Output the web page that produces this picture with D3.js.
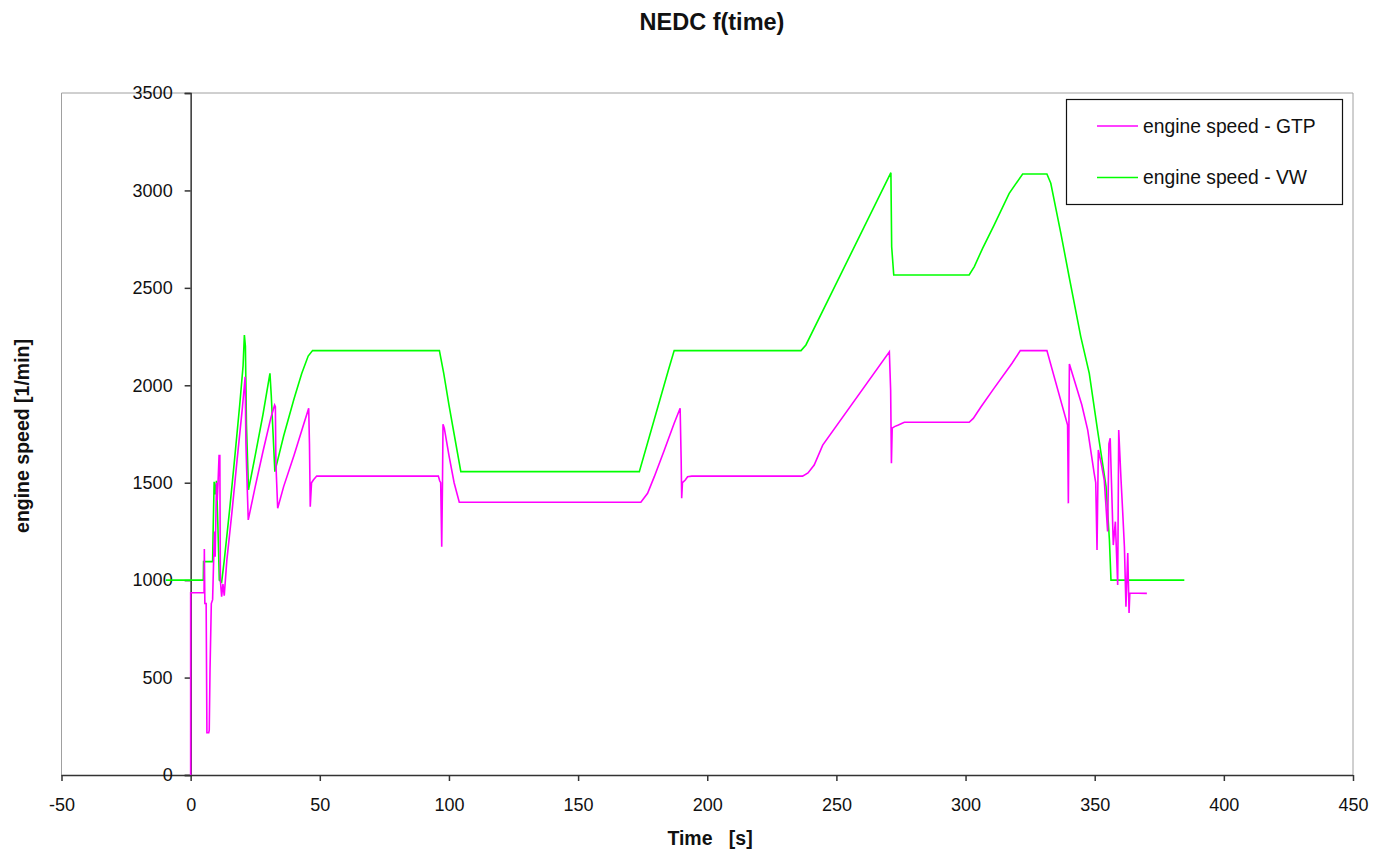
<!DOCTYPE html>
<html>
<head>
<meta charset="utf-8">
<script src="https://cdn.jsdelivr.net/npm/d3@7"></script>
<style>
  body { margin: 0; background: #fff; }
  svg { display: block; font-family: "Liberation Sans", Arial, sans-serif; }
  .tick-label { font-size: 18px; fill: #111; }
  .axis-title { font-size: 19.5px; font-weight: bold; fill: #111; }
</style>
</head>
<body>
<svg id="chart" width="1374" height="853"></svg>
<script>
const CHART_TITLE = "NEDC f(time)";
const X_TITLE = "Time   [s]";
const Y_TITLE = "engine speed [1/min]";
const X_TICKS = [-50, 0, 50, 100, 150, 200, 250, 300, 350, 400, 450];
const Y_TICKS = [0, 500, 1000, 1500, 2000, 2500, 3000, 3500];
const SERIES_NAMES = ["engine speed - GTP", "engine speed - VW"];

// engine speed - GTP (magenta)
const gtpTime = [
  0, 0, 0, 5.2, 5.3, 5.5, 6.0, 6.3, 7.0, 7.2, 7.5, 8.0, 8.5, 9.0, 9.3, 9.5, 10.0, 10.3, 10.6, 11.0,
  11.3, 11.5, 12.0, 12.5, 13.0, 14.0, 16.0, 18.0, 20.0, 21.1, 21.4, 21.7, 22.3, 25.0, 28.0, 31.0,
  32.5, 32.8, 33.0, 33.7, 36.0, 40.0, 44.0, 45.7, 46.0, 46.3, 46.8, 47.5, 48.8, 95.9, 96.4, 96.8,
  97.2, 97.5, 97.7, 98.2, 100, 102, 104, 174.3, 176.9, 179.5, 183.4, 187.2, 189.5, 189.9, 190.1,
  190.4, 191.5, 192.4, 194, 236.9, 239, 241.4, 244.7, 270.5, 271.0, 271.3, 271.6, 272.5, 274,
  276.3, 301.4, 303, 306, 311, 318, 321.2, 331.5, 339.5, 339.8, 340.2, 345, 347.3, 349.8, 350.4,
  350.9, 351.4, 352.5, 353.7, 355.0, 355.5, 356.0, 356.5, 357.2, 358.0, 358.9, 359.3, 360.2,
  360.8, 361.5, 362.1, 362.8, 363.3, 363.6, 370.2
];
const gtpRpm = [
  0, 480, 935, 935, 1160, 880, 880, 217, 217, 230, 540, 880, 900, 1150, 1250, 1120, 1500, 1410, 1500, 1640,
  1640, 1000, 915, 980, 920, 1100, 1350, 1620, 1880, 2044, 1700, 1560, 1309, 1480, 1660, 1830,
  1899, 1890, 1600, 1369, 1480, 1640, 1810, 1882, 1700, 1377, 1500, 1514, 1534, 1534, 1510, 1500,
  1172, 1500, 1800, 1780, 1640, 1500, 1400, 1400, 1446, 1531, 1668, 1805, 1882, 1617, 1420,
  1500, 1514, 1531, 1534, 1534, 1550, 1591, 1693, 2172, 1976, 1600, 1780, 1788, 1796,
  1810, 1810, 1830, 1890, 1984, 2113, 2178, 2178, 1796, 1394, 2109, 1900, 1770, 1548, 1500,
  1155, 1668, 1600, 1514, 1250, 1700, 1728, 1500, 1180, 1300, 975, 1770, 1514,
  1360, 1172, 864, 1139, 831, 934, 932
];

// engine speed - VW (green)
const vwTime = [
  -9.6, 4.9, 5.0, 8.5, 8.7, 9.1, 9.5, 10.0, 10.5, 11.1, 12.0, 13.0, 15.0, 17.0, 19.0, 20.3, 20.8,
  21.2, 21.6, 22.4, 25.0, 28.0, 30.7, 31.2, 32.6, 36.0, 40.0, 43.0, 45.5, 47.2, 96.3, 98, 100, 102, 104.6,
  173.7, 185, 187.2, 236.3, 238.2, 271.1, 271.4, 272.2, 301.4, 303.4, 306.6, 311.1, 316.9, 322.1,
  331.5, 333, 336.9, 340.1, 344.6, 347.9, 351.1, 354.4, 355.7, 356.3, 384.7
];
const vwRpm = [
  1000, 1000, 1095, 1095, 1250, 1505, 1440, 1510, 1300, 1000, 990, 1100, 1350, 1620, 1900, 2100, 2258,
  2200, 1800, 1463, 1640, 1850, 2061, 1950, 1557, 1740, 1930, 2060, 2150, 2178, 2178, 2060, 1900, 1750, 1557,
  1557, 2080, 2178, 2178, 2207, 3091, 2711, 2566, 2566, 2609, 2703, 2823, 2985, 3084,
  3084, 3037, 2780, 2557, 2250, 2061, 1770, 1480, 1206, 1000, 1000
];

const SERIES_COLORS = ["#ff00ff", "#00ff00"];

function toPoints(times, values) {
  return times.map((time, index) => ({ t: time, v: values[index] }));
}

function drawChart() {
  const svg = d3.select("#chart");
  const plot = { left: 61.5, right: 1353, top: 93, bottom: 775 };

  const x = d3.scaleLinear().domain([-50, 450]).range([plot.left, plot.right]);
  const y = d3.scaleLinear().domain([0, 3500]).range([plot.bottom, plot.top]);
  const plainNumber = (value) => String(value);

  svg.append("rect")
    .attr("width", 1374)
    .attr("height", 853)
    .attr("fill", "#fff");

  // plot area frame
  svg.append("path")
    .attr("d", `M${plot.left},${plot.bottom}V${plot.top}H${plot.right}V${plot.bottom}`)
    .attr("fill", "none")
    .attr("stroke", "#a0a0a0")
    .attr("stroke-width", 1);

  const xAxis = svg.append("g")
    .attr("transform", `translate(0,${plot.bottom})`)
    .call(d3.axisBottom(x).tickValues(X_TICKS).tickSize(6).tickPadding(17).tickFormat(plainNumber));
  const yAxis = svg.append("g")
    .attr("transform", `translate(${x(0)},0)`)
    .call(d3.axisLeft(y).tickValues(Y_TICKS).tickSize(6).tickPadding(12).tickFormat(plainNumber));

  for (const axis of [xAxis, yAxis]) {
    axis.select(".domain").attr("stroke", "#333").attr("stroke-width", 1.5);
    axis.selectAll(".tick line").attr("stroke", "#333").attr("stroke-width", 1.5);
    axis.selectAll(".tick text")
      .attr("class", "tick-label")
      .attr("fill", null)
      .attr("font-size", null)
      .attr("font-family", null);
  }
  xAxis.select(".domain").attr("d", `M${plot.left},0.5H${plot.right}`);
  xAxis.selectAll(".tick line").attr("y1", 0);

  const line = d3.line()
    .x((point) => x(point.t))
    .y((point) => y(point.v));

  const seriesData = [toPoints(gtpTime, gtpRpm), toPoints(vwTime, vwRpm)];

  // VW first so GTP sits on top where they cross
  svg.append("path")
    .datum(seriesData[1])
    .attr("d", line)
    .attr("fill", "none")
    .attr("stroke", SERIES_COLORS[1])
    .attr("stroke-width", 1.6);
  svg.append("path")
    .datum(seriesData[0])
    .attr("d", line)
    .attr("fill", "none")
    .attr("stroke", SERIES_COLORS[0])
    .attr("stroke-width", 1.6);

  svg.append("text")
    .attr("class", "axis-title")
    .attr("x", 712)
    .attr("y", 30)
    .attr("text-anchor", "middle")
    .style("font-size", "23.5px")
    .text(CHART_TITLE);
  svg.append("text")
    .attr("class", "axis-title")
    .attr("x", 710)
    .attr("y", 845)
    .attr("text-anchor", "middle")
    .attr("xml:space", "preserve")
    .style("white-space", "pre")
    .text(X_TITLE);
  svg.append("text")
    .attr("class", "axis-title")
    .attr("transform", "translate(29,436) rotate(-90)")
    .attr("text-anchor", "middle")
    .text(Y_TITLE);

  // legend
  const legend = svg.append("g");
  legend.append("rect")
    .attr("x", 1066.5)
    .attr("y", 99.5)
    .attr("width", 276)
    .attr("height", 105)
    .attr("fill", "#fff")
    .attr("stroke", "#111")
    .attr("stroke-width", 1.2);
  const legendRows = [126, 177.5];
  SERIES_NAMES.forEach((name, index) => {
    legend.append("line")
      .attr("x1", 1097)
      .attr("x2", 1138)
      .attr("y1", legendRows[index])
      .attr("y2", legendRows[index])
      .attr("stroke", SERIES_COLORS[index])
      .attr("stroke-width", 1.6);
    legend.append("text")
      .attr("class", "tick-label")
      .attr("x", 1143)
      .attr("y", legendRows[index])
      .attr("dy", "0.35em")
      .style("font-size", "19.3px")
      .text(name);
  });
}

drawChart();
</script>
</body>
</html>
